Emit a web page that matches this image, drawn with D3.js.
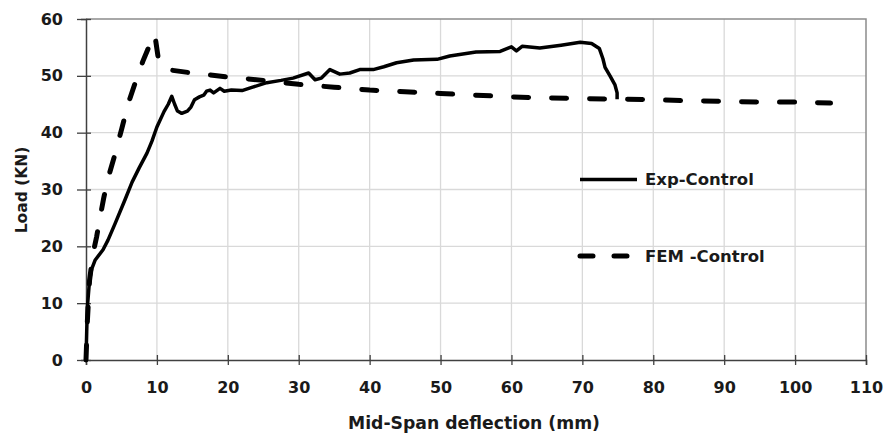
<!DOCTYPE html>
<html>
<head>
<meta charset="utf-8">
<script src="https://cdn.jsdelivr.net/npm/d3@7/dist/d3.min.js"></script>
<style>
  body { margin: 0; background: #fff; }
</style>
</head>
<body>
<div class="vis1"></div>
<script>
// axis ticks
const xTicks = [0, 10, 20, 30, 40, 50, 60, 70, 80, 90, 100, 110];
const yTicks = [0, 10, 20, 30, 40, 50, 60];

// Exp-Control
const expDeflection = [0, 0.1, 0.2, 0.5, 0.8, 1.3, 2.4, 3.1, 4.1, 5.5, 6.5, 7.5, 8.6, 9.3, 10, 11, 11.6, 12.1,
  12.5, 12.9, 13.5, 14.3, 14.8, 15.3, 16, 16.6, 17, 17.5, 18, 18.9, 19.5, 20.5, 22, 23.5, 25.5, 27.5, 29.2,
  31.4, 32.3, 33.2, 34.4, 35.8, 37.2, 38.6, 40.5, 42, 43.8, 46.2, 49.5, 51.3, 55, 58.4, 60, 60.7, 61.5, 64,
  67, 69.7, 71.3, 72.4, 72.9, 73.2, 73.9, 74.6, 74.9, 74.9];
const expLoad = [0, 5, 9.4, 14, 16, 17.6, 19.4, 21.1, 24, 28.2, 31.3, 33.8, 36.4, 38.5, 41, 43.7, 45, 46.4,
  45, 43.8, 43.4, 43.8, 44.5, 45.8, 46.3, 46.6, 47.3, 47.5, 47, 47.8, 47.3, 47.5, 47.4, 48, 48.8, 49.2, 49.6,
  50.5, 49.3, 49.6, 51.1, 50.3, 50.5, 51.1, 51.1, 51.6, 52.3, 52.8, 52.9, 53.5, 54.2, 54.3, 55.1, 54.4, 55.2, 54.9,
  55.4, 55.9, 55.7, 54.8, 53, 51.5, 50, 48.4, 47, 45.9];

// FEM -Control
const femDeflection = [0, 0.2, 0.5, 1, 1.5, 2, 2.5, 3, 4, 5, 6, 7, 8, 9, 9.7, 10.2, 10.9, 12, 15, 20, 25, 30,
  35, 40, 45, 50, 55, 60, 65, 70, 75, 80, 85, 90, 95, 100, 105];
const femLoad = [0, 7, 14, 18.8, 21.7, 25.2, 28.5, 31.5, 35.8, 40.5, 45.3, 49, 52.5, 55.5, 57.3, 53, 51.4, 51,
  50.5, 49.8, 49.2, 48.5, 48, 47.5, 47.2, 46.9, 46.6, 46.3, 46.1, 46, 45.9, 45.8, 45.6, 45.5, 45.4, 45.4, 45.2];

const expData = expDeflection.map((d, i) => ({ x: d, y: expLoad[i] }));
const femData = femDeflection.map((d, i) => ({ x: d, y: femLoad[i] }));

const margin = { top: 19, right: 23, bottom: 76, left: 86 };
const width = 889 - margin.left - margin.right;
const height = 436 - margin.top - margin.bottom;

const labelFont = "'DejaVu Sans', sans-serif";

const svg = d3.select(".vis1")
  .append("svg")
  .attr("width", width + margin.left + margin.right)
  .attr("height", height + margin.top + margin.bottom)
  .append("g")
  .attr("transform", "translate(" + margin.left + "," + margin.top + ")");

const xScale = d3.scaleLinear().domain([0, 110]).range([0, width]);
const yScale = d3.scaleLinear().domain([0, 60]).range([height, 0]);

// gridlines
svg.append("g")
  .selectAll("line")
  .data(xTicks.slice(1, -1))
  .enter().append("line")
  .attr("x1", d => xScale(d)).attr("x2", d => xScale(d))
  .attr("y1", 0).attr("y2", height)
  .attr("stroke", "#d9d9d9").attr("stroke-width", 1.3);

svg.append("g")
  .selectAll("line")
  .data(yTicks.slice(1, -1))
  .enter().append("line")
  .attr("x1", 0).attr("x2", width)
  .attr("y1", d => yScale(d)).attr("y2", d => yScale(d))
  .attr("stroke", "#d9d9d9").attr("stroke-width", 1.3);

// plot border (top and right)
svg.append("path")
  .attr("d", "M0,0H" + width + "V" + height)
  .attr("fill", "none")
  .attr("stroke", "#8c8c8c")
  .attr("stroke-width", 1.5);

// X axis
const xAxis = svg.append("g")
  .attr("transform", "translate(0," + height + ")")
  .call(d3.axisBottom(xScale).tickValues(xTicks).tickSize(5).tickFormat(d3.format("d")));
xAxis.select(".domain").attr("stroke", "#404040").attr("stroke-width", 1.5);
xAxis.selectAll(".tick line").attr("y1", -5).attr("y2", 5).attr("stroke", "#404040").attr("stroke-width", 1.3);
xAxis.selectAll(".tick text")
  .attr("y", 22)
  .attr("dy", "0.71em")
  .style("font-family", labelFont)
  .style("font-weight", "bold")
  .style("font-size", "16px")
  .attr("fill", "#1a1a1a");

// Y axis
const yAxis = svg.append("g")
  .call(d3.axisLeft(yScale).tickValues(yTicks).tickSize(5));
yAxis.select(".domain").attr("stroke", "#404040").attr("stroke-width", 1.5);
yAxis.selectAll(".tick line").attr("x1", -9).attr("x2", 5).attr("stroke", "#404040").attr("stroke-width", 1.3);
yAxis.selectAll(".tick text")
  .attr("x", -23)
  .style("font-family", labelFont)
  .style("font-weight", "bold")
  .style("font-size", "16px")
  .attr("fill", "#1a1a1a");

// axis titles
svg.append("text")
  .attr("transform", "rotate(-90)")
  .attr("x", -171)
  .attr("y", -59)
  .style("text-anchor", "middle")
  .style("font-family", labelFont)
  .style("font-weight", "bold")
  .style("font-size", "15.5px")
  .attr("fill", "#1a1a1a")
  .text("Load (KN)");

svg.append("text")
  .attr("x", 474 - margin.left)
  .attr("y", height + 69)
  .style("text-anchor", "middle")
  .style("font-family", labelFont)
  .style("font-weight", "bold")
  .style("font-size", "17.5px")
  .attr("textLength", 252)
  .attr("lengthAdjust", "spacingAndGlyphs")
  .attr("fill", "#1a1a1a")
  .text("Mid-Span deflection (mm)");

// lines
const lineFem = d3.line()
  .x(d => xScale(d.x))
  .y(d => yScale(d.y));

svg.append("path")
  .datum(femData)
  .attr("fill", "none")
  .attr("stroke", "#000")
  .attr("stroke-width", 5)
  .attr("stroke-linecap", "round")
  .attr("stroke-dasharray", "15,23")
  .attr("d", lineFem);

svg.append("path")
  .datum(expData)
  .attr("fill", "none")
  .attr("stroke", "#000")
  .attr("stroke-width", 3.5)
  .attr("stroke-linejoin", "round")
  .attr("d", d3.line().x(d => xScale(d.x)).y(d => yScale(d.y)));

// legend
const legend = [
  { name: "Exp-Control", dash: null, width: 3.5, y: 160.5 },
  { name: "FEM -Control", dash: "13,21", width: 5, y: 237 }
];
const lg = svg.append("g");
legend.forEach(l => {
  lg.append("line")
    .attr("x1", 494).attr("x2", 551)
    .attr("y1", l.y).attr("y2", l.y)
    .attr("stroke", "#000")
    .attr("stroke-width", l.width)
    .attr("stroke-linecap", l.dash ? "round" : "butt")
    .attr("stroke-dasharray", l.dash);
  lg.append("text")
    .attr("x", 559)
    .attr("y", l.y)
    .attr("dy", "0.36em")
    .style("font-family", labelFont)
    .style("font-weight", "bold")
    .style("font-size", "16.5px")
    .attr("fill", "#1a1a1a")
    .text(l.name);
});
</script>
</body>
</html>
